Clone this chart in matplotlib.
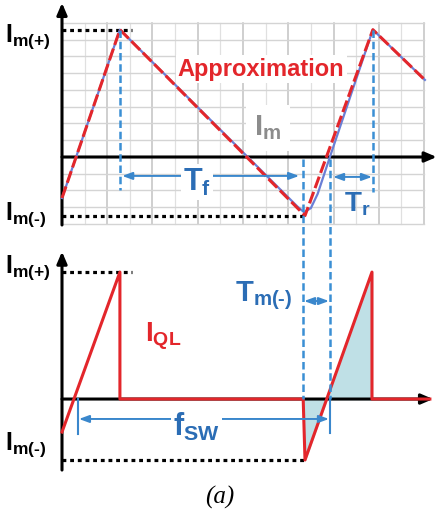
import numpy as np
import matplotlib.pyplot as plt

plt.rcParams['font.family'] = ['Liberation Sans', 'DejaVu Sans']
plt.rcParams['font.weight'] = 'bold'
plt.rcParams['mathtext.fontset'] = 'custom'
plt.rcParams['mathtext.rm'] = 'Liberation Sans:bold'
plt.rcParams['mathtext.bf'] = 'Liberation Sans:bold'
plt.rcParams['mathtext.it'] = 'Liberation Sans:bold'

RED = '#e3262b'
BLUE = '#2b6db5'
ARROW = '#3a87cc'
DASH = '#3a8fd4'
SHADE = '#bfe0e6'

# units: one grid column in time, one grid row in current
# upper trace: magnetizing current and its piecewise-linear approximation
t_top = [0.0, 1.28, 5.37, 6.87, 8.02]
im_approx = [-2.45, 7.6, -3.5, 7.6, 4.6]
t_act = [0.0, 1.28, 5.2, 5.35, 5.5, 5.65, 5.92, 6.87, 8.02]
im_act = [-2.45, 7.6, -2.95, -3.3, -3.05, -2.2, 0.0, 7.6, 4.6]
IM_POS = 7.6
IM_NEG = -3.5

# lower trace: current in the low-side switch
t_ql = [0.0, 1.28, 1.28, 5.33, 5.37, 6.85, 6.85, 8.13]
i_ql = [-1.97, 7.58, 0.0, 0.0, -3.64, 7.58, 0.0, 0.0]
QL_POS = 7.58
QL_NEG = -3.64
BOT = -14.45   # baseline of the lower trace

# timing marks
t_peak1, t_peak2 = 1.28, 6.87
t_min, t_zero = 5.33, 5.92
t_fsw = 0.354

# subscripted labels, hyphen kept as a plain hyphen
LBL_POS = r'$\mathrm{I}_{\text{m(+)}}$'
LBL_NEG = r'$\mathrm{I}_{\text{m(-)}}$'

fig = plt.figure(figsize=(4.37, 5.15), dpi=100)
ax = fig.add_axes([0, 0, 1, 1])
ax.set_xlim(-1.370, 8.287)
ax.set_ylim(-21.373, 9.373)
ax.axis('off')

# background grid of the upper plot
cols = np.arange(0, 8.01, 0.5)
rows = np.arange(-4, 8.01, 1.0)
for c in cols:
    major = abs(c - round(c)) < 1e-6
    ax.plot([c, c], [-4, 8], color='#c2c2c2' if major else '#e0e0e0',
            lw=1.1 if major else 0.9, zorder=0)
for r in rows:
    ax.plot([0, 8], [r, r], color='#d4d4d4', lw=1.0, zorder=0)

# axes with arrow heads
axis_kw = dict(arrowstyle='-|>,head_length=0.7,head_width=0.3', lw=2.2,
               color='k', shrinkA=0, shrinkB=0)
ax.annotate('', xy=(0, 9.2), xytext=(0, -4.06), arrowprops=axis_kw, zorder=3)
ax.annotate('', xy=(8.28, 0), xytext=(0, 0), arrowprops=axis_kw, zorder=3)
ax.annotate('', xy=(0, BOT + 8.8), xytext=(0, BOT - 4.24), arrowprops=axis_kw, zorder=3)
ax.annotate('', xy=(8.2, BOT), xytext=(0, BOT), arrowprops=axis_kw, zorder=3)

# peak levels
dot = (0, (1.2, 1.2))
ax.plot([0, 1.55], [IM_POS, IM_POS], color='k', lw=2.3, ls=dot, zorder=3)
ax.plot([0, t_top[2]], [IM_NEG, IM_NEG], color='k', lw=2.3, ls=dot, zorder=3)
ax.plot([0, 1.55], [BOT + QL_POS, BOT + QL_POS], color='k', lw=2.3, ls=dot, zorder=3)
ax.plot([0, t_ql[4]], [BOT + QL_NEG, BOT + QL_NEG], color='k', lw=2.3, ls=dot, zorder=3)

# magnetizing current and approximation
ax.plot(t_act, im_act, color='#6a7fd6', lw=1.6, zorder=4)
ax.plot(t_top, im_approx, color=RED, lw=2.2, ls=(0, (4, 1.3)), zorder=5)

# switch current with the shaded area around the zero crossing
ax.fill_between(t_ql[3:6], [BOT + v for v in i_ql[3:6]], BOT, color=SHADE, zorder=2)
ax.plot(t_ql, [BOT + v for v in i_ql], color=RED, lw=2.2, zorder=5)

# dashed timing markers
dash = (0, (3, 1.5))
ax.plot([t_peak1, t_peak1], [IM_POS, -1.97], color=DASH, lw=1.8, ls=dash, zorder=6)
ax.plot([t_peak2, t_peak2], [IM_POS, -2.09], color=DASH, lw=1.8, ls=dash, zorder=6)
ax.plot([t_min, t_min], [-0.1, BOT], color=DASH, lw=1.8, ls=dash, zorder=6)
ax.plot([t_zero, t_zero], [-0.1, BOT], color=DASH, lw=1.8, ls=dash, zorder=6)
ax.plot([t_zero, t_zero], [BOT, BOT - 2.03], color=ARROW, lw=1.5, zorder=6)
ax.plot([t_fsw, t_fsw], [BOT, BOT - 2.1], color=ARROW, lw=1.5, zorder=6)

# interval arrows
dbl = dict(arrowstyle='<|-|>,head_length=0.6,head_width=0.22', lw=1.4,
           color=ARROW, shrinkA=0, shrinkB=0)
ax.annotate('', xy=(5.24, -1.13), xytext=(1.33, -1.13), arrowprops=dbl, zorder=6)
ax.annotate('', xy=(6.85, -1.19), xytext=(5.99, -1.19), arrowprops=dbl, zorder=6)
ax.annotate('', xy=(5.9, BOT + 5.85), xytext=(5.35, BOT + 5.85), arrowprops=dbl, zorder=6)
ax.annotate('', xy=(5.9, BOT - 1.19), xytext=(t_fsw + 0.02, BOT - 1.19), arrowprops=dbl, zorder=6)

# labels
box = dict(fc='white', ec='none', pad=1.5)
ax.text(-1.26, 7.16, LBL_POS, fontsize=18, ha='left', va='center', zorder=7)
ax.text(-1.26, -3.46, LBL_NEG, fontsize=18, ha='left', va='center', zorder=7)
ax.text(-1.26, BOT + 7.82, LBL_POS, fontsize=18, ha='left', va='center', zorder=7)
ax.text(-1.26, BOT - 2.75, LBL_NEG, fontsize=18, ha='left', va='center', zorder=7)

ax.text(4.40, 5.25, 'Approximation', color=RED, fontsize=17, fontweight='bold',
        ha='center', va='center', bbox=box, zorder=7)
ax.text(4.55, 1.73, r'$\mathrm{I}_{\mathrm{m}}$', color='#8c8c8c', fontsize=21,
        ha='center', va='center', bbox=dict(fc='white', ec='none', pad=6), zorder=7)
ax.text(2.98, -1.49, r'$\mathrm{T}_{\mathrm{f}}$', color=BLUE, fontsize=22,
        ha='center', va='center', bbox=box, zorder=7)
ax.text(6.52, -2.81, r'$\mathrm{T}_{\mathrm{r}}$', color=BLUE, fontsize=20,
        ha='center', va='center', zorder=7)
ax.text(4.46, BOT + 6.15, r'$\mathrm{T}_{\text{m(-)}}$', color=BLUE, fontsize=21,
        ha='center', va='center', zorder=7)
ax.text(2.98, BOT - 1.67, r'$\mathrm{f}_{\mathrm{SW}}$', color=BLUE, fontsize=22,
        ha='center', va='center', bbox=box, zorder=7)
ax.text(2.23, BOT + 3.76, r'$\mathrm{I}_{\mathrm{QL}}$', color=RED, fontsize=20,
        ha='center', va='center', zorder=7)
ax.text(3.49, -20.3, '(a)', family=['Liberation Serif', 'DejaVu Serif'], style='italic',
        fontweight='normal', fontsize=18, ha='center', va='center', zorder=7)

fig.savefig('out.png', dpi=100)
